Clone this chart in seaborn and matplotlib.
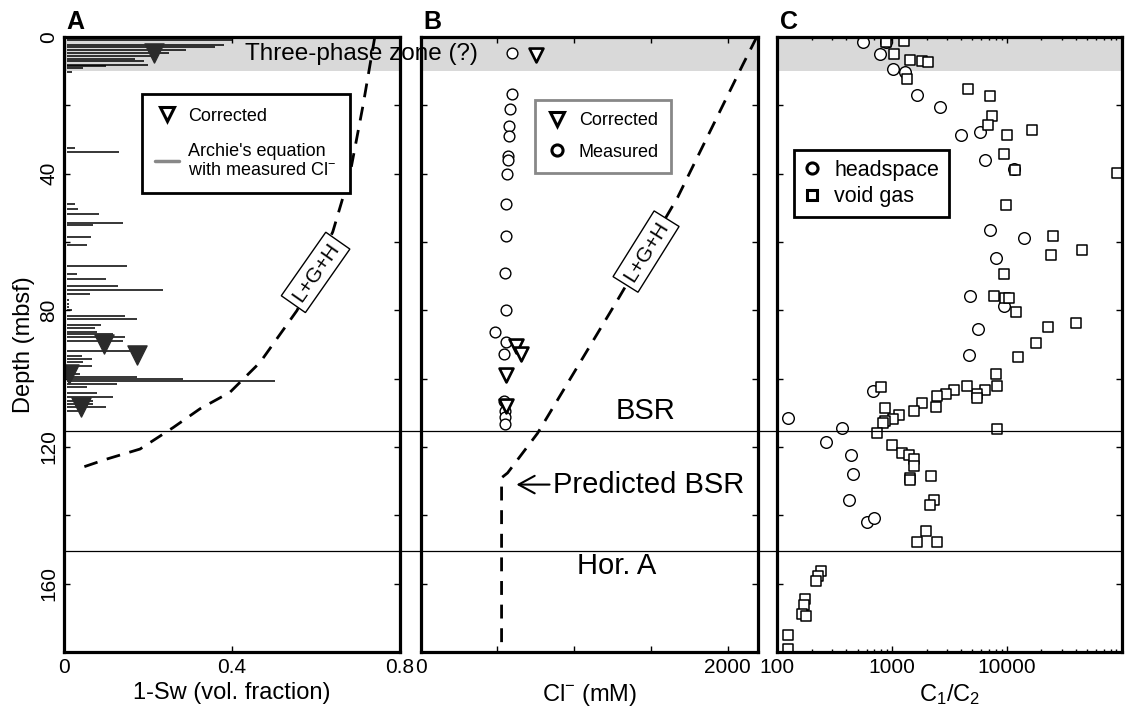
import numpy as np
import pandas as pd
import matplotlib
matplotlib.use("Agg")
import matplotlib.pyplot as plt
import matplotlib.transforms as mtransforms
from matplotlib.lines import Line2D
import seaborn as sns

# ---------------- data ----------------
# Panel A: Archie's equation spikes (depth m, 1-Sw)
archie_depth = [0.8, 2.4, 3.0, 3.7, 4.7, 5.7, 6.3, 7.1, 8.1, 8.6, 9.1, 10.1,
                32.6, 33.8, 48.8, 50.2, 51.9, 54.3, 55.1, 58.6, 61.0, 67.1, 69.3, 70.8, 72.9, 74.0, 75.2,
                77.0, 78.0, 79.0, 80.0, 81.7, 82.5, 84.3, 85.2, 86.2, 86.9, 87.9, 89.1, 91.8, 93.3, 94.2,
                95.2, 96.2, 98.6, 99.6, 100.1, 100.8, 101.6, 102.5, 104.3, 105.3, 106.5, 107.4, 108.4, 109.4]
archie_value = [0.40, 0.38, 0.36, 0.29, 0.25, 0.22, 0.17, 0.19, 0.20, 0.10, 0.045, 0.02,
                0.026, 0.13, 0.026, 0.033, 0.084, 0.141, 0.07, 0.064, 0.054, 0.149, 0.03, 0.10, 0.129, 0.236, 0.062,
                0.012, 0.012, 0.012, 0.018, 0.145, 0.173, 0.087, 0.074, 0.078, 0.117, 0.145, 0.14, 0.157, 0.042, 0.066,
                0.046, 0.066, 0.038, 0.173, 0.284, 0.502, 0.125, 0.054, 0.078, 0.117, 0.07, 0.07, 0.10, 0.038]
archie_base = 0.008

corrA_depth = [4.7, 89.8, 93.0, 98.6, 108.4]
corrA_value = [0.214, 0.096, 0.173, 0.012, 0.040]

lghA_depth = [0, 20, 40, 57, 80, 95.2, 104, 108.8, 114.3, 120.6, 123.6, 126.4]
lghA_value = [0.74, 0.712, 0.681, 0.64, 0.555, 0.467, 0.395, 0.324, 0.26, 0.181, 0.10, 0.033]

# Panel B: chloride (mM)
measB_depth = [4.7, 16.8, 21.2, 26.1, 29.0, 34.9, 35.9, 40.2, 48.8, 58.1, 69.0, 80.0, 86.4, 89.3, 92.8,
               106.6, 109.4, 111.3, 113.3]
measB_cl = [597, 593, 582, 575, 575, 569, 569, 565, 560, 560, 549, 560, 484, 554, 545,
            545, 549, 549, 549]
corrB_depth = [5.3, 90.3, 92.8, 98.8, 107.9]
corrB_cl = [749, 619, 656, 556, 556]
lghB_depth = [0, 8.2, 47, 77, 116, 127.6, 129, 178]
lghB_cl = [2190, 2098, 1674, 1283, 762, 567, 528, 528]

# Panel C: C1/C2
head_depth = [1.4, 1.4, 5.0, 9.5, 10.2, 17.0, 20.6, 28.7, 27.8, 36.1, 38.5, 56.6, 58.7, 64.6, 75.7, 78.6,
              85.6, 93.0, 103.7, 111.6, 114.3, 118.4, 122.3, 128.0, 135.4, 141.9, 140.7]
head_ratio = [563, 888, 788, 1015, 1291, 1643, 2592, 3980, 5870, 6400, 11460, 7080, 14020, 7980, 4735, 9440,
              5640, 4680, 679, 125, 367, 266, 440, 460, 425, 602, 697]
void_depth = [1.4, 1.1, 5.0, 6.6, 7.1, 7.4, 12.4, 15.1, 17.3, 23.1, 25.8, 28.7, 27.1, 34.3, 39.0, 39.7,
              49.3, 58.1, 62.4, 63.9, 69.5, 75.7, 76.4, 76.4, 80.6, 85.0, 83.8, 89.7, 93.6, 98.5, 102.1,
              103.3, 104.4, 105.7, 102.0, 103.3, 104.4, 105.1, 108.3, 107.2, 109.4, 110.6, 111.9, 112.4,
              112.9, 108.6, 102.4, 116.0, 114.8, 119.4, 121.8, 122.3, 123.4, 125.7, 129.0, 129.6, 128.4,
              135.4, 137.1, 144.7, 147.9, 147.9, 156.2, 157.9, 159.3, 164.4, 166.2, 168.9, 169.6, 175.1, 179.1]
void_ratio = [888, 1265, 1043, 1439, 1832, 2037, 1345, 4610, 7180, 7470, 6840, 10020, 16440, 9380, 11780, 90200,
              9890, 25300, 44700, 24400, 9440, 7670, 9570, 10370, 12100, 22850, 39800, 18080, 12590, 8090, 8250,
              6440, 5480, 5480, 4490, 3430, 2920, 2455, 2425, 1807, 1538, 1146, 1015, 859,
              830, 859, 803, 736, 8200, 1000, 1225, 1400, 1549, 1538, 1439, 1439, 2193,
              2297, 2150, 1983, 1643, 2476, 240, 225, 218, 175, 172, 164, 178, 125, 125]

bsr_depth = 115.2
horA_depth = 150.4
zone_top, zone_bottom = 0, 10

# ---------------- style ----------------
sns.set_theme(style="ticks")
plt.rcParams["font.family"] = ["Liberation Sans", "DejaVu Sans"]
plt.rcParams["mathtext.default"] = "regular"
for k in ("text.color", "axes.labelcolor", "xtick.color", "ytick.color", "axes.edgecolor"):
    plt.rcParams[k] = "black"

W, H = 1128, 712
fig = plt.figure(figsize=(W / 100, H / 100), dpi=100)
bottom = 1 - 652 / H
height = (652 - 37) / H
axA = fig.add_axes([64 / W, bottom, (400 - 64) / W, height])
axB = fig.add_axes([420.5 / W, bottom, (758.3 - 420.5) / W, height])
axC = fig.add_axes([777.3 / W, bottom, (1121.7 - 777.3) / W, height])

band_color = "#d9d9d9"
for ax in (axA, axB, axC):
    ax.axhspan(zone_top, zone_bottom, color=band_color, lw=0, zorder=0)
    ax.set_ylim(180, 0)
    ax.set_yticks(np.arange(0, 181, 20))
    ax.tick_params(which="both", direction="in", top=True, right=True, left=True, bottom=True,
                   width=1.0, color="black", labelcolor="black", labelsize=15, pad=4)
    ax.tick_params(which="major", length=4.5)
    ax.tick_params(which="minor", length=2.5)
    for s in ax.spines.values():
        s.set_linewidth(2.3)
        s.set_color("black")
        s.set_zorder(5)

# ---------------- Panel A ----------------
axA.hlines(archie_depth, archie_base, archie_value, color="black", lw=1.1, zorder=2)
sns.lineplot(x=lghA_value, y=lghA_depth, sort=False, estimator=None, ax=axA, color="black",
             lw=2.0, zorder=3)
axA.lines[-1].set_dashes((5, 3.5))
sns.scatterplot(x=corrA_value, y=corrA_depth, marker="v", s=190, color="#2b2b2b",
                edgecolor="#2b2b2b", linewidth=1.0, ax=axA, zorder=4, legend=False)
axA.set_xlim(0, 0.8)
axA.set_xticks([0, 0.4, 0.8])
axA.set_xticklabels(["0", "0.4", "0.8"])
yl = [str(int(v)) if v % 40 == 0 and v < 180 else "" for v in np.arange(0, 181, 20)]
axA.set_yticklabels(yl, rotation=90, va="center")
axA.set_xlabel("1-Sw (vol. fraction)", fontsize=17, labelpad=4)
axA.set_ylabel("Depth (mbsf)", fontsize=17, labelpad=3)
axA.text(0.599, 68.9, "L+G+H", rotation=55, rotation_mode="anchor", ha="center", va="center",
         fontsize=15, zorder=6,
         bbox=dict(boxstyle="square,pad=0.25", fc="white", ec="black", lw=1.0))

legA = axA.legend(
    handles=[Line2D([], [], ls="none", marker="v", ms=10, mfc="white", mec="black", mew=2.2),
             Line2D([], [], color="#888888", lw=2.5)],
    labels=["Corrected", "Archie's equation\nwith measured Cl$^{-}$"],
    loc="upper left", bbox_to_anchor=(0.232, 0.907), borderaxespad=0, frameon=True, fancybox=False,
    edgecolor="black", fontsize=13, handlelength=1.3, borderpad=0.75, labelspacing=1.0,
    handletextpad=0.5, framealpha=1)
legA.get_frame().set_linewidth(2.0)

# ---------------- Panel B ----------------
sns.lineplot(x=lghB_cl, y=lghB_depth, sort=False, estimator=None, ax=axB, color="black",
             lw=2.0, zorder=3)
axB.lines[-1].set_dashes((5, 3.5))
sns.scatterplot(x=measB_cl, y=measB_depth, marker="o", s=60, color="white", edgecolor="black",
                linewidth=1.0, ax=axB, zorder=4, legend=False)
sns.scatterplot(x=corrB_cl, y=corrB_depth, marker="v", s=100, color="white", edgecolor="black",
                linewidth=1.9, ax=axB, zorder=4, legend=False)
axB.set_xlim(0, 2200)
axB.set_xticks([0, 500, 1000, 1500, 2000])
axB.set_xticklabels(["0", "", "", "", "2000"])
axB.set_yticklabels([])
axB.set_ylabel("")
axB.set_xlabel("Cl$^{-}$ (mM)", fontsize=17, labelpad=4)
axB.text(1469, 62.8, "L+G+H", rotation=58, rotation_mode="anchor", ha="center", va="center",
         fontsize=15, zorder=6,
         bbox=dict(boxstyle="square,pad=0.25", fc="white", ec="black", lw=1.0))
axB.text(1466, 109.4, "BSR", fontsize=21, ha="center", va="center", zorder=6)
axB.text(1277, 154.8, "Hor. A", fontsize=21, ha="center", va="center", zorder=6)
axB.annotate("Predicted BSR", xy=(625, 131), xytext=(862, 131), fontsize=21, ha="left", va="center",
             arrowprops=dict(arrowstyle="->,head_length=0.55,head_width=0.3", lw=1.5, color="black",
                             shrinkA=0, shrinkB=0), zorder=6)
# label that spans panels A and B (drawn in B so it sits above B's band)
axB.text(-1140, 5.0, "Three-phase zone (?)", fontsize=17.5, ha="left", va="center",
         clip_on=False, zorder=6)
legB = axB.legend(
    handles=[Line2D([], [], ls="none", marker="v", ms=10, mfc="white", mec="black", mew=2.2),
             Line2D([], [], ls="none", marker="o", ms=8, mfc="white", mec="black", mew=2.2)],
    labels=["Corrected", "Measured"],
    loc="upper left", bbox_to_anchor=(0.34, 0.898), borderaxespad=0, frameon=True, fancybox=False,
    edgecolor="#888888", fontsize=13, handlelength=1.0, borderpad=0.7, labelspacing=0.8,
    handletextpad=0.7, framealpha=1)
legB.get_frame().set_linewidth(2.0)

# ---------------- Panel C ----------------
sns.scatterplot(x=head_ratio, y=head_depth, marker="o", s=70, color="white", edgecolor="black",
                linewidth=1.0, ax=axC, zorder=4, legend=False)
sns.scatterplot(x=void_ratio, y=void_depth, marker="s", s=48, color="white", edgecolor="black",
                linewidth=1.1, ax=axC, zorder=4, legend=False)
axC.set_xscale("log")
axC.set_xlim(100, 100000)
axC.set_xticks([100, 1000, 10000])
axC.set_xticklabels(["100", "1000", "10000"])
axC.set_yticklabels([])
axC.set_ylabel("")
axC.set_xlabel("C$_1$/C$_2$", fontsize=17, labelpad=4)
legC = axC.legend(
    handles=[Line2D([], [], ls="none", marker="o", ms=8, mfc="white", mec="black", mew=2.2),
             Line2D([], [], ls="none", marker="s", ms=7, mfc="white", mec="black", mew=2.2)],
    labels=["headspace", "void gas"],
    loc="upper left", bbox_to_anchor=(0.049, 0.816), borderaxespad=0, frameon=True, fancybox=False,
    edgecolor="black", fontsize=15.5, handlelength=0.8, borderpad=0.45, labelspacing=0.25,
    handletextpad=0.6, framealpha=1)
legC.get_frame().set_linewidth(2.0)

# ---------------- horizontal reference lines across all panels ----------------
trans = mtransforms.blended_transform_factory(fig.transFigure, axA.transData)
x0 = axA.get_position().x0
x1 = axC.get_position().x1
for d in (bsr_depth, horA_depth):
    fig.add_artist(Line2D([x0, x1], [d, d], transform=trans, color="black", lw=0.9, zorder=3))

# panel letters
for ax, lab in ((axA, "A"), (axB, "B"), (axC, "C")):
    ax.text(0.008, 1.013, lab, transform=ax.transAxes, fontsize=18, fontweight="bold",
            ha="left", va="baseline")

fig.savefig("out.png", dpi=100)
